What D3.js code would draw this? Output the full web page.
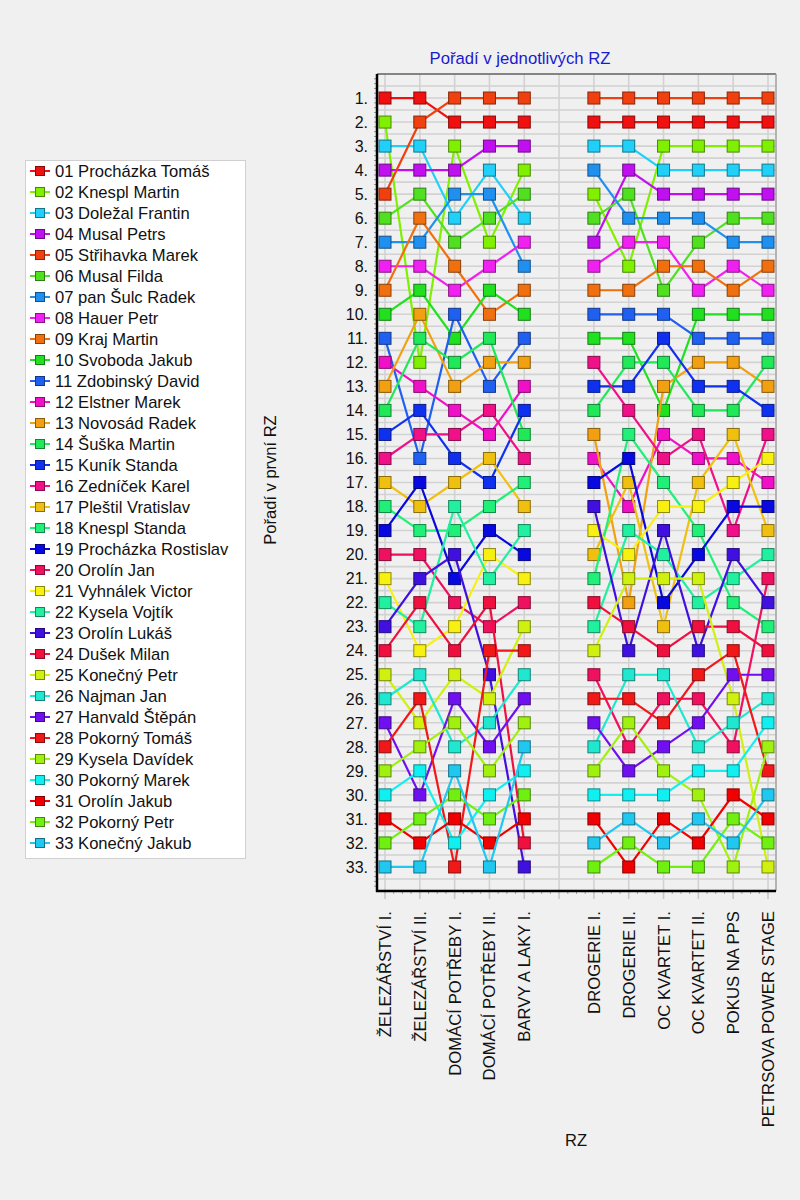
<!DOCTYPE html>
<html>
<head>
<meta charset="utf-8">
<script src="https://cdn.jsdelivr.net/npm/d3@7"></script>
<style>
  body { margin: 0; background: #f0f0f0; }
  svg { display: block; font-family: Arial, "Liberation Sans", sans-serif; }
</style>
</head>
<body>
<svg id="chart" width="800" height="1200"></svg>
<script>
// jezdci (poradi v legendě = poradi v první RZ)
const drivers = [
  "01 Procházka Tomáš", "02 Knespl Martin", "03 Doležal Frantin", "04 Musal Petrs",
  "05 Střihavka Marek", "06 Musal Filda", "07 pan Šulc Radek", "08 Hauer Petr",
  "09 Kraj Martin", "10 Svoboda Jakub", "11 Zdobinský David", "12 Elstner Marek",
  "13 Novosád Radek", "14 Šuška Martin", "15 Kuník Standa", "16 Zedníček Karel",
  "17 Pleštil Vratislav", "18 Knespl Standa", "19 Procházka Rostislav", "20 Orolín Jan",
  "21 Vyhnálek Victor", "22 Kysela Vojtík", "23 Orolín Lukáš", "24 Dušek Milan",
  "25 Konečný Petr", "26 Najman Jan", "27 Hanvald Štěpán", "28 Pokorný Tomáš",
  "29 Kysela Davídek", "30 Pokorný Marek", "31 Orolín Jakub", "32 Pokorný Petr",
  "33 Konečný Jakub"
];

const driverColors = [
  "#f01010", "#80f000", "#20d0f8", "#c010f0", "#f04010", "#50e020", "#2090f0", "#f020f0",
  "#f07010", "#20e020", "#2060f0", "#f010c8", "#f0a010", "#20e858", "#1030f0", "#f01088",
  "#f0c010", "#20f078", "#0808e0", "#f01060", "#f8f010", "#20f0a0", "#4010e0", "#f01040",
  "#d0f010", "#20e8d0", "#7010f0", "#f01818", "#a0f010", "#10f0f0", "#f00000", "#70f010",
  "#20c8f0"
];

// RZ, "" = mezera mezi dvěma částmi
const stages = [
  "ŽELEZÁŘSTVÍ I.", "ŽELEZÁŘSTVÍ II.", "DOMÁCÍ POTŘEBY I.", "DOMÁCÍ POTŘEBY II.",
  "BARVY A LAKY I.", "", "DROGERIE I.", "DROGERIE II.", "OC KVARTET I.",
  "OC KVARTET II.", "POKUS NA PPS", "PETRSOVA POWER STAGE"
];

// pořadí v každé RZ: čísla jezdců od 1. místa dolů
const rz1 = [1,2,3,4,5,6,7,8,9,10,11,12,13,14,15,16,17,18,19,20,21,22,23,24,25,26,27,28,29,30,31,32,33];
const rz2 = [1,5,3,4,6,9,7,8,10,13,14,2,12,15,16,11,19,17,18,20,23,24,22,21,26,28,25,29,30,27,32,31,33];
const rz3 = [5,1,2,4,7,3,6,9,8,11,10,14,13,12,16,15,17,22,18,23,19,20,21,24,25,27,29,26,33,32,31,30,28];
const rz4 = [5,1,4,3,7,6,2,8,10,9,14,13,11,16,12,17,15,18,19,21,22,24,20,28,23,25,26,27,29,30,32,31,33];
const rz5 = [5,1,4,2,6,3,8,7,9,10,11,13,12,15,14,16,18,17,22,19,21,20,25,28,26,27,29,33,30,32,31,24,23];
const rz6 = [5,1,3,7,2,6,4,8,9,11,10,16,15,14,13,12,19,23,21,17,18,24,22,25,20,28,27,26,29,30,31,33,32];
const rz7 = [5,1,3,4,6,7,8,2,9,11,10,14,15,16,18,19,17,12,22,21,25,13,24,23,26,28,29,20,27,30,33,32,31];
const rz8 = [5,1,2,3,4,7,8,9,6,11,15,14,13,10,12,16,18,21,23,22,25,19,17,24,26,20,28,27,29,30,31,33,32];
const rz9 = [5,1,2,3,4,7,6,9,8,10,11,13,15,14,16,12,17,21,18,19,25,22,24,23,28,20,27,26,30,29,33,31,32];
const rz10 = [5,1,2,3,4,6,7,8,9,10,11,13,15,14,17,12,21,19,16,23,22,18,24,28,27,25,26,20,30,31,32,33,29];
const rz11 = [5,1,2,3,4,6,7,9,8,10,11,14,13,15,16,21,12,19,17,22,20,23,18,24,27,26,30,29,28,33,31,32,25];

const stageOrders = [rz1, rz2, rz3, rz4, rz5, null, rz6, rz7, rz8, rz9, rz10, rz11];

const width = 800, height = 1200;
const plot = { left: 377, right: 776, top: 74, bottom: 891 };

const svg = d3.select("#chart");
svg.append("rect").attr("width", width).attr("height", height).attr("fill", "#f0f0f0");

const stageIds = stages.map((s, i) => "s" + i);
const x = d3.scalePoint().domain(stageIds).range([385, 768]);
const y = d3.scaleLinear().domain([0, 34]).range([plot.top, plot.bottom]);
const step = x.step();

// mřížka
const grid = svg.append("g");
grid.selectAll("line.v").data(stageIds).enter().append("line")
  .attr("x1", d => x(d)).attr("x2", d => x(d))
  .attr("y1", plot.top).attr("y2", plot.bottom)
  .attr("stroke", "#d2d2d2").attr("stroke-width", 1.6);
grid.selectAll("line.h").data(d3.range(0.5, 34, 0.5)).enter().append("line")
  .attr("x1", plot.left).attr("x2", plot.right)
  .attr("y1", d => y(d)).attr("y2", d => y(d))
  .attr("stroke", "#d2d2d2").attr("stroke-width", 1.6);

// rámeček
svg.append("line").attr("x1", plot.left).attr("x2", plot.right)
  .attr("y1", plot.top).attr("y2", plot.top).attr("stroke", "#606060").attr("stroke-width", 1.5);
svg.append("line").attr("x1", plot.right).attr("x2", plot.right)
  .attr("y1", plot.top).attr("y2", plot.bottom).attr("stroke", "#a0a0a0").attr("stroke-width", 1.5);

// osa Y
const yAxis = svg.append("g");
yAxis.selectAll("line.minor").data(d3.range(0.2, 34, 0.2)).enter().append("line")
  .attr("x1", plot.left - 3).attr("x2", plot.left)
  .attr("y1", d => y(d)).attr("y2", d => y(d))
  .attr("stroke", "#909090").attr("stroke-width", 1);
yAxis.selectAll("text").data(d3.range(1, 34)).enter().append("text")
  .attr("x", 368).attr("y", d => y(d)).attr("dy", "0.36em")
  .attr("text-anchor", "end").attr("font-size", 16).attr("fill", "#111")
  .text(d => d + ".");
svg.append("line").attr("x1", plot.left).attr("x2", plot.left)
  .attr("y1", plot.top).attr("y2", plot.bottom + 1).attr("stroke", "#000").attr("stroke-width", 2.5);

// osa X
const xAxis = svg.append("g");
const minorX = d3.range(-1, 46).map(k => 385 + step * k / 4).filter(v => v > plot.left + 2 && v < plot.right - 2);
xAxis.selectAll("line.minor").data(minorX).enter().append("line")
  .attr("x1", d => d).attr("x2", d => d)
  .attr("y1", plot.bottom).attr("y2", plot.bottom + 3)
  .attr("stroke", "#a0a0a0").attr("stroke-width", 1);
xAxis.selectAll("line.major").data(stageIds).enter().append("line")
  .attr("x1", d => x(d)).attr("x2", d => x(d))
  .attr("y1", plot.bottom).attr("y2", plot.bottom + 8)
  .attr("stroke", "#c8c8c8").attr("stroke-width", 1.6);
xAxis.selectAll("text").data(stages).enter().append("text")
  .attr("transform", (d, i) => `translate(${x(stageIds[i])},911) rotate(-90)`)
  .attr("dy", "0.36em").attr("text-anchor", "end")
  .attr("font-size", 16.7).attr("fill", "#111")
  .text(d => d);
svg.append("line").attr("x1", plot.left - 1).attr("x2", plot.right)
  .attr("y1", plot.bottom).attr("y2", plot.bottom).attr("stroke", "#000").attr("stroke-width", 2.5);

// titulky
svg.append("text").attr("x", 520).attr("y", 64).attr("text-anchor", "middle")
  .attr("font-size", 16.7).attr("fill", "#1a1ad0").text("Pořadí v jednotlivých RZ");
svg.append("text").attr("transform", "translate(270,480) rotate(-90)")
  .attr("text-anchor", "middle").attr("dy", "0.36em")
  .attr("font-size", 16.5).attr("fill", "#111").text("Pořadí v první RZ");
svg.append("text").attr("x", 576).attr("y", 1146).attr("text-anchor", "middle")
  .attr("font-size", 16.5).attr("fill", "#111").text("RZ");

// data pro každého jezdce: [{stage, rank}] (null v mezeře)
const series = drivers.map((name, di) => ({
  name,
  color: driverColors[di],
  values: stageOrders.map((ord, si) => ({
    stage: stageIds[si],
    rank: ord ? ord.indexOf(di + 1) + 1 : null
  }))
}));

const line = d3.line()
  .defined(d => d.rank !== null)
  .x(d => x(d.stage))
  .y(d => y(d.rank));

const marks = svg.append("g");
series.forEach(s => {
  const g = marks.append("g");
  g.append("path")
    .attr("d", line(s.values))
    .attr("fill", "none")
    .attr("stroke", s.color)
    .attr("stroke-width", 2.2);
  g.selectAll("rect").data(s.values.filter(d => d.rank !== null)).enter().append("rect")
    .attr("x", d => x(d.stage) - 6)
    .attr("y", d => y(d.rank) - 6)
    .attr("width", 12).attr("height", 12)
    .attr("fill", s.color)
    .attr("stroke", d3.color(s.color).darker(1.6))
    .attr("stroke-width", 1);
});

// legenda
const legend = svg.append("g");
legend.append("rect").attr("x", 25.5).attr("y", 160.5).attr("width", 220).attr("height", 698)
  .attr("fill", "#fff").attr("stroke", "#a8a8a8").attr("stroke-dasharray", "1,1");
const item = legend.selectAll("g.item").data(series).enter().append("g")
  .attr("transform", (d, i) => `translate(0,${171 + i * 21})`);
item.append("line").attr("x1", 30).attr("x2", 50).attr("y1", 0).attr("y2", 0)
  .attr("stroke", d => d.color).attr("stroke-width", 2);
item.append("rect").attr("x", 35.5).attr("y", -4.5).attr("width", 9).attr("height", 9)
  .attr("fill", d => d.color).attr("stroke", d => d3.color(d.color).darker(1.6)).attr("stroke-width", 1);
item.append("text").attr("x", 55).attr("dy", "0.36em")
  .attr("font-size", 16.6).attr("fill", "#111").text(d => d.name);
</script>
</body>
</html>
